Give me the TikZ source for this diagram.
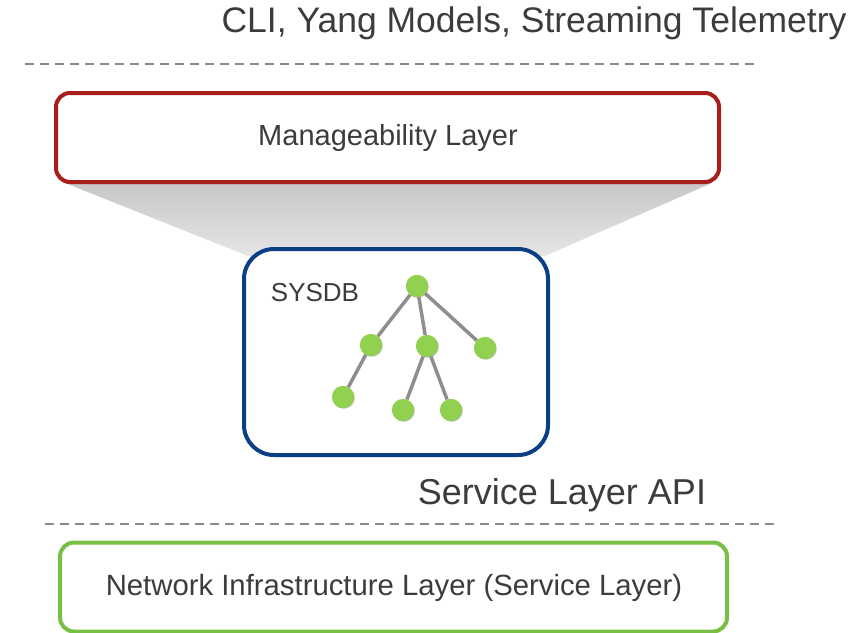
\documentclass[tikz,border=0pt]{standalone}
\usepackage{fontspec}
\setmainfont{Liberation Sans}
\usetikzlibrary{shadows}
\definecolor{redline}{HTML}{A81E1A}
\definecolor{blueline}{HTML}{0A3F86}
\definecolor{greenline}{HTML}{78BF45}
\definecolor{txt}{HTML}{3C3C3C}
\definecolor{leaf}{HTML}{92D050}
\definecolor{edge}{HTML}{8E8E8E}
\definecolor{dash}{HTML}{8A8A8A}
\tikzset{
  layerbox/.style={draw, line width=4pt, fill=white, rounded corners=14pt, inner sep=0pt},
  lbl/.style={text=txt, inner sep=0pt},
  treenode/.style={circle, fill=leaf, minimum size=22pt, inner sep=0pt, drop shadow={opacity=0.25, shadow xshift=0.8pt, shadow yshift=-0.8pt}},
  treeedge/.style={draw=edge, line width=3.5pt},
  sepline/.style={draw=dash, line width=1.3pt, dash pattern=on 9pt off 6pt}
}
\begin{document}
\begin{tikzpicture}[x=1pt,y=-1pt]
\useasboundingbox (0,0) rectangle (850,632);
% title
\node[lbl, font=\fontsize{35.5}{40}\selectfont] (title) at (534,23) {CLI, Yang Models, Streaming Telemetry};
\coordinate (d1a) at (25,64);
\coordinate (d1b) at (758,64);
\draw[sepline] (d1a) -- (d1b);
% funnel
\shade[top color=black!22, bottom color=black!10] (65,183) -- (712,183) -- (545,256) -- (248,256) -- cycle;
% manageability
\node[layerbox, draw=redline, minimum width=663pt, minimum height=89pt] (mgmt) at (387.5,137.5) {};
\node[lbl, font=\fontsize{29}{33}\selectfont] (mgmtt) at (388,138) {Manageability Layer};
% sysdb
\node[layerbox, draw=blueline, rounded corners=30pt, minimum width=304pt, minimum height=206pt] (sysdb) at (396,352) {};
\node[lbl, font=\fontsize{26}{30}\selectfont] (sysdbt) at (315,293) {SYSDB};
% tree
\node[treenode] (r) at (417,286) {};
\node[treenode] (a) at (371,345) {};
\node[treenode] (b) at (427,346) {};
\node[treenode] (c) at (485,348) {};
\node[treenode] (a1) at (343,397) {};
\node[treenode] (b1) at (403,410) {};
\node[treenode] (b2) at (451,410) {};
\path[treeedge] (r) -- (a);
\path[treeedge] (r) -- (b);
\path[treeedge] (r) -- (c);
\path[treeedge] (a) -- (a1);
\path[treeedge] (b) -- (b1);
\path[treeedge] (b) -- (b2);
\node[treenode] at (r) {};
\node[treenode] at (a) {};
\node[treenode] at (b) {};
\node[treenode] at (c) {};
\node[treenode] at (a1) {};
\node[treenode] at (b1) {};
\node[treenode] at (b2) {};
% service layer api
\node[lbl, font=\fontsize{36}{40}\selectfont] (api) at (562,495) {Service Layer API};
\coordinate (d2a) at (45,524);
\coordinate (d2b) at (777,524);
\draw[sepline] (d2a) -- (d2b);
% network infra
\node[layerbox, draw=greenline, minimum width=667pt, minimum height=89pt] (net) at (393.5,587) {};
\node[lbl, font=\fontsize{29.3}{34}\selectfont] (nett) at (394,588) {Network Infrastructure Layer (Service Layer)};
\end{tikzpicture}
\end{document}
